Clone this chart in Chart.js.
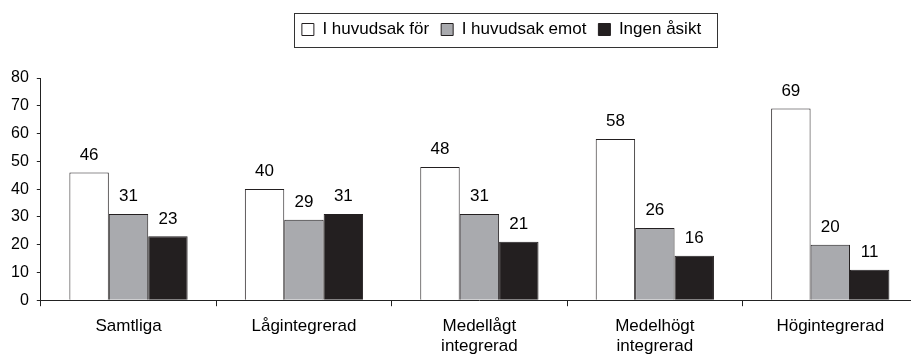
<!DOCTYPE html>
<html>
<head>
<meta charset="utf-8">
<script src="https://cdn.jsdelivr.net/npm/chart.js@4/dist/chart.umd.min.js"></script>
<style>
    body { margin: 0; overflow: hidden; background: #fff; }
    #wrap { width: 918px; height: 367px; }
</style>
</head>
<body>
<div id="wrap"><canvas id="myChart"></canvas></div>
<script>
// grupper och andelar (procent)
const groups = [['Samtliga'], ['Lågintegrerad'], ['Medellågt', 'integrerad'], ['Medelhögt', 'integrerad'], ['Högintegrerad']];
const seriesNames = ['I huvudsak för', 'I huvudsak emot', 'Ingen åsikt'];
const forValues = [46, 40, 48, 58, 69];
const emotValues = [31, 29, 31, 26, 20];
const ingenValues = [23, 31, 21, 16, 11];
const yMin = 0, yMax = 80, yStep = 10;

const FONT = 'Liberation Sans, Arial, Helvetica, sans-serif';
Chart.defaults.font.family = FONT;
Chart.defaults.font.size = 17;
Chart.defaults.color = '#000';

// values over each bar
const valueLabels = {
    id: 'valueLabels',
    afterDatasetsDraw(chart) {
        let ctx = chart.ctx;
        ctx.save();
        ctx.font = '17px ' + FONT;
        ctx.fillStyle = '#000';
        ctx.textAlign = 'center';
        ctx.textBaseline = 'bottom';
        chart.data.datasets.forEach((ds, i) => {
            chart.getDatasetMeta(i).data.forEach((bar, j) => {
                ctx.fillText(ds.data[j], bar.x, bar.y - 9);
            });
        });
        ctx.restore();
    }
};

// legend sits right of centre, above the plot, inside a frame
const legendFrame = {
    id: 'legendFrame',
    afterLayout(chart) {
        let lg = chart.legend;
        lg.left += 41; lg.right += 41;
        lg.top -= 30; lg.bottom -= 30;
    },
    afterDraw(chart) {
        let boxes = chart.legend.legendHitBoxes;
        if (!boxes || !boxes.length) return;
        let x0 = Math.min(...boxes.map(b => b.left)) - 8;
        let x1 = Math.max(...boxes.map(b => b.left + b.width)) + 16;
        let y0 = boxes[0].top - 8;
        let y1 = boxes[0].top + boxes[0].height + 9;
        let ctx = chart.ctx;
        ctx.save();
        ctx.strokeStyle = '#333';
        ctx.lineWidth = 1;
        ctx.strokeRect(Math.round(x0) + 0.5, Math.round(y0) + 0.5, Math.round(x1 - x0), Math.round(y1 - y0));
        ctx.restore();
    }
};

new Chart('myChart', {
    type: 'bar',
    data: {
        labels: groups,
        datasets: [
            { label: seriesNames[0], data: forValues, backgroundColor: '#ffffff', borderColor: '#231f20', borderWidth: 1 },
            { label: seriesNames[1], data: emotValues, backgroundColor: '#a9aaae', borderColor: '#231f20', borderWidth: 1 },
            { label: seriesNames[2], data: ingenValues, backgroundColor: '#231f20', borderColor: '#231f20', borderWidth: 1 }
        ]
    },
    options: {
        responsive: true,
        maintainAspectRatio: false,
        animation: false,
        layout: { padding: { top: 39, left: 3, right: 0, bottom: 0 } },
        categoryPercentage: 0.674,
        barPercentage: 1,
        plugins: {
            legend: {
                display: true,
                position: 'top',
                labels: { boxWidth: 12, boxHeight: 12, padding: 12, font: { size: 17 } }
            },
            tooltip: { enabled: false }
        },
        scales: {
            x: {
                grid: { offset: true, drawOnChartArea: false, drawTicks: true, tickLength: 6, color: '#222' },
                border: { color: '#222', width: 1 },
                ticks: { padding: 10, maxRotation: 0, font: { size: 17 } }
            },
            y: {
                min: yMin,
                max: yMax,
                grid: { drawOnChartArea: false, drawTicks: true, tickLength: 4, color: '#222' },
                border: { color: '#222', width: 1 },
                ticks: { stepSize: yStep, padding: 8, font: { size: 16 } }
            }
        }
    },
    plugins: [valueLabels, legendFrame]
});
</script>
</body>
</html>
